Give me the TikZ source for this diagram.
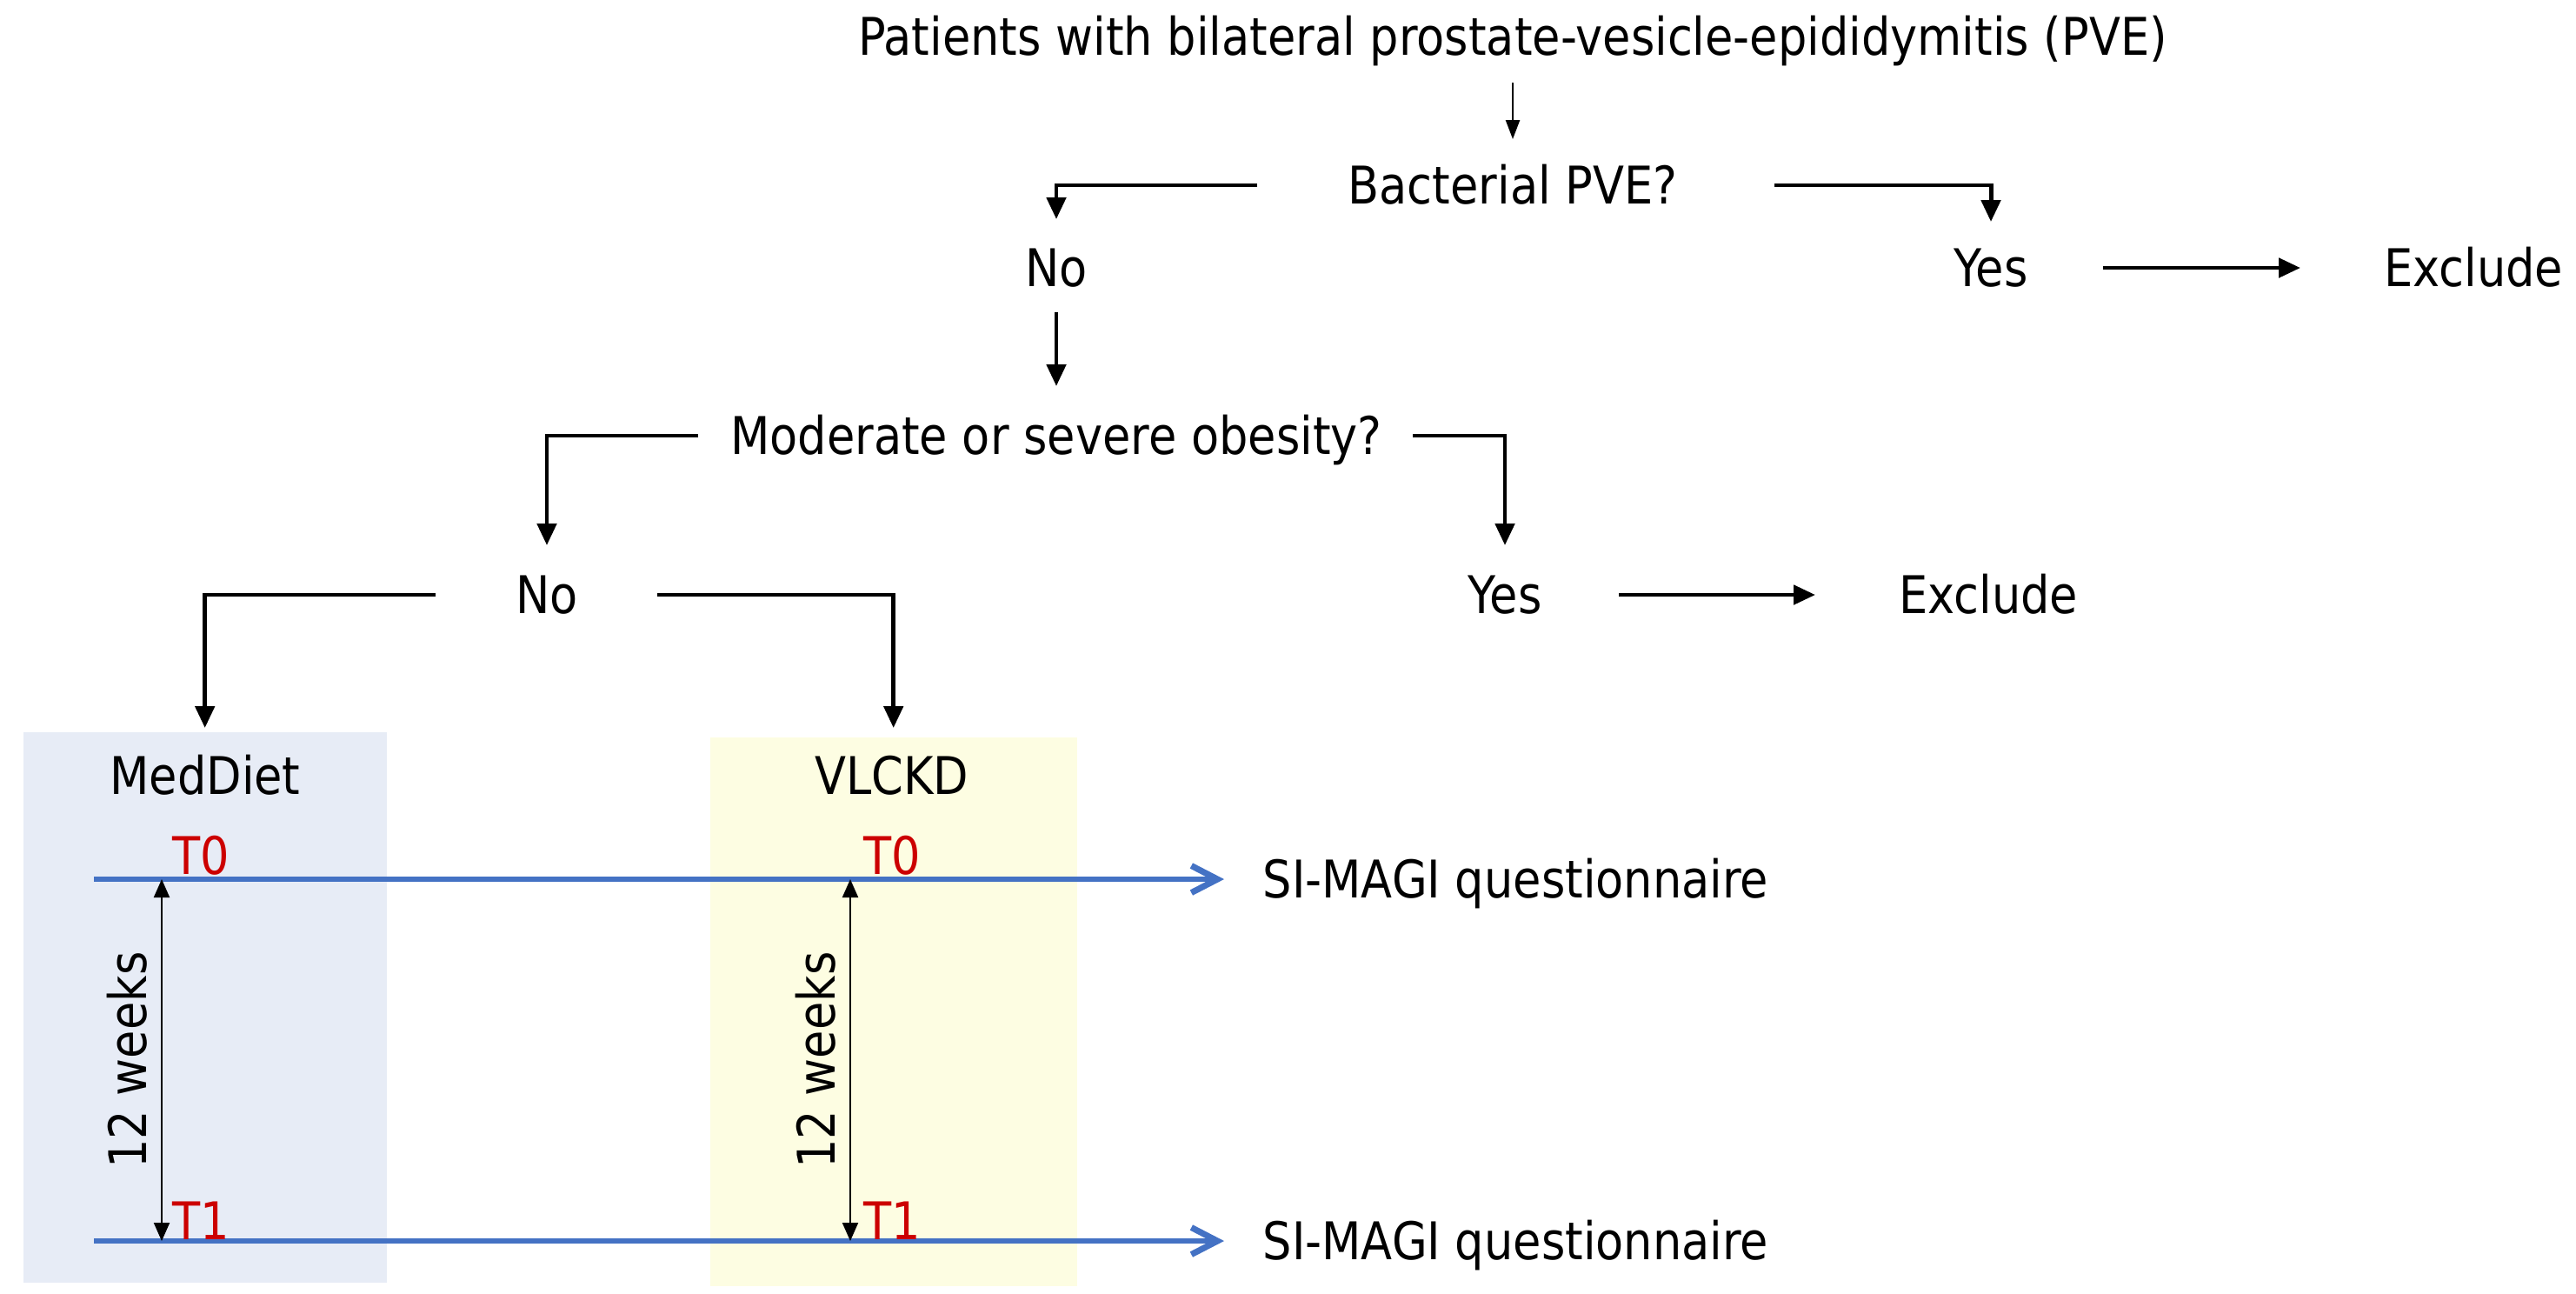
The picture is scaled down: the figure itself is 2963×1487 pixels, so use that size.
\documentclass[tikz,border=0pt]{standalone}
\usepackage{fontspec}
\setmainfont{DejaVu Sans}[FakeStretch=0.88]
\usetikzlibrary{arrows.meta}
\definecolor{medblue}{HTML}{E7ECF6}
\definecolor{vlyellow}{HTML}{FDFDE2}
\definecolor{lineblue}{HTML}{4472C4}
\definecolor{tred}{HTML}{CC0000}
\begin{document}
\begin{tikzpicture}[x=0.1mm,y=-0.1mm,
  lbl/.style={font=\fontsize{17}{20}\selectfont, inner sep=0pt, text height=12.4pt, text depth=0pt},
  tlbl/.style={lbl, text=tred},
  elb/.style={line width=1.4pt, -{Triangle[length=2.5mm,width=2.2mm]}},
  thinarr/.style={line width=0.7pt, -{Triangle[length=2.2mm,width=1.6mm]}},
  dblarr/.style={line width=0.6pt, {Triangle[length=2.1mm,width=1.8mm]}-{Triangle[length=2.1mm,width=1.8mm]}},
  bluearr/.style={line width=1.5pt, draw=lineblue, -{Straight Barb[length=3mm,width=3.1mm,line width=2pt]}},
  panel/.style={inner sep=0pt, draw=none, anchor=north west}]
\useasboundingbox (0,0) rectangle (2963,1487);

% panels
\node[panel, fill=medblue, minimum width=41.8mm, minimum height=63.3mm] (medbox) at (26,841) {};
\node[panel, fill=vlyellow, minimum width=42.2mm, minimum height=63.1mm] (vlbox) at (816,847) {};

% flow nodes
\node[lbl] (title) at (1740,42) {Patients with bilateral prostate-vesicle-epididymitis (PVE)};
\node[lbl] (bact) at (1740,213) {Bacterial PVE?};
\node[lbl] (no1) at (1215,308) {No};
\node[lbl] (yes1) at (2290,308) {Yes};
\node[lbl] (exc1) at (2845,308) {Exclude};
\node[lbl] (obes) at (1215,501) {Moderate or severe obesity?};
\node[lbl] (no2) at (629,684) {No};
\node[lbl] (yes2) at (1731,684) {Yes};
\node[lbl] (exc2) at (2287,684) {Exclude};

% connectors
\draw[thinarr] ([yshift=-5.3mm]title.center) -- ([yshift=5.3mm]bact.center);
\draw[elb] ([xshift=-29.4mm]bact.center) -| ([yshift=5.6mm]no1.center);
\draw[elb] ([xshift=30.1mm]bact.center) -| ([yshift=5.3mm]yes1.center);
\draw[elb] ([xshift=12.9mm]yes1.center) -- ([xshift=-19.9mm]exc1.center);
\draw[elb] ([yshift=-5.1mm]no1.center) -- ([yshift=5.7mm]obes.center);
\draw[elb] ([xshift=-41.2mm]obes.center) -| ([yshift=5.7mm]no2.center);
\draw[elb] ([xshift=41mm]obes.center) -| ([yshift=5.7mm]yes2.center);
\draw[elb] ([xshift=13.1mm]yes2.center) -- ([xshift=-19.9mm]exc2.center);
\draw[elb] ([xshift=-12.8mm]no2.center) -| ([yshift=0.4mm]medbox.north);
\draw[elb] ([xshift=12.7mm]no2.center) -| ([yshift=1mm]vlbox.north);

% panel titles
\node[lbl] (medl) at (236,892) {MedDiet};
\node[lbl] (vll) at (1026,892) {VLCKD};

% timelines
\coordinate (l0s) at (108,1011);
\coordinate (l1s) at (108,1427);
\node[lbl, anchor=west] (si0) at (1452,1011) {SI-MAGI questionnaire};
\node[lbl, anchor=west] (si1) at (1452,1427) {SI-MAGI questionnaire};
\draw[bluearr] (l0s) -- ([xshift=-4.4mm]si0.west);
\draw[bluearr] (l1s) -- ([xshift=-4.4mm]si1.west);

% T labels
\node[tlbl] (t0a) at (231,984) {T0};
\node[tlbl] (t0b) at (1026,984) {T0};
\node[tlbl] (t1a) at (231,1404) {T1};
\node[tlbl] (t1b) at (1026,1404) {T1};

% 12 weeks arrows
\coordinate (ma0) at (186,1011);
\coordinate (ma1) at (186,1427);
\coordinate (va0) at (978,1011);
\coordinate (va1) at (978,1427);
\draw[dblarr] (ma0) -- (ma1);
\draw[dblarr] (va0) -- (va1);
\node[lbl, rotate=90] (w1) at (147,1219) {12 weeks};
\node[lbl, rotate=90] (w2) at (939,1219) {12 weeks};
\end{tikzpicture}
\end{document}
